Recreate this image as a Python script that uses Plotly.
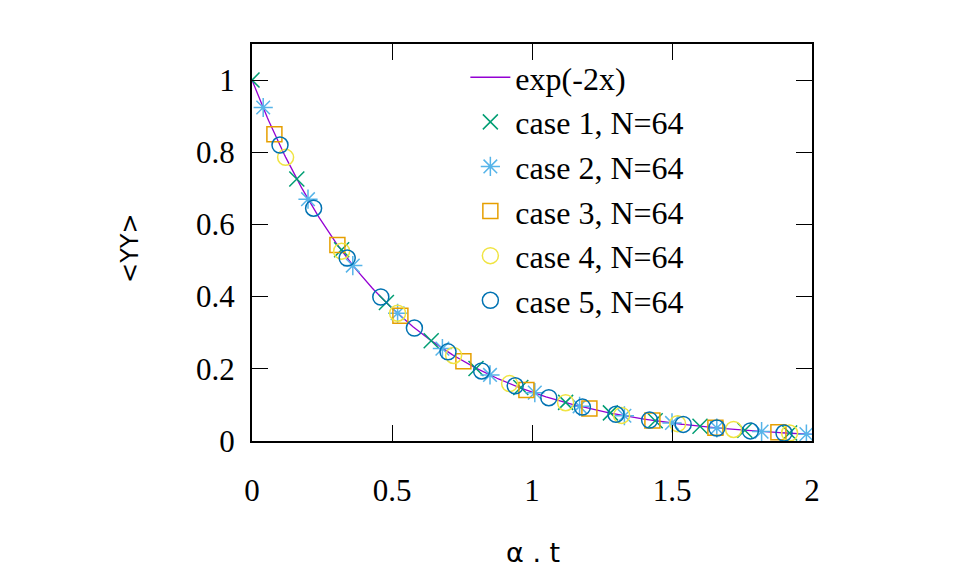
import numpy as np
import plotly.graph_objects as go

# ---- data ----
case1_x = [0.00, 0.16, 0.32, 0.48, 0.64, 0.80, 0.96, 1.12, 1.28, 1.44, 1.60, 1.76, 1.92]
case1_y = [1.000, 0.726, 0.530, 0.384, 0.278, 0.201, 0.148, 0.107, 0.078, 0.056, 0.041, 0.030, 0.022]

case2_x = [0.04, 0.20, 0.36, 0.52, 0.68, 0.85, 1.01, 1.17, 1.33, 1.50, 1.66, 1.82, 1.98]
case2_y = [0.924, 0.670, 0.486, 0.354, 0.256, 0.183, 0.134, 0.096, 0.070, 0.050, 0.036, 0.026, 0.019]

case3_x = [0.08, 0.305, 0.53, 0.755, 0.98, 1.205, 1.43, 1.655, 1.88]
case3_y = [0.850, 0.543, 0.347, 0.221, 0.141, 0.090, 0.057, 0.037, 0.024]

case4_x = [0.12, 0.32, 0.52, 0.72, 0.92, 1.12, 1.32, 1.52, 1.72, 1.92]
case4_y = [0.786, 0.526, 0.354, 0.237, 0.159, 0.106, 0.071, 0.048, 0.032, 0.022]

case5_x = [0.10, 0.22, 0.34, 0.46, 0.58, 0.70, 0.82, 0.94, 1.06, 1.18, 1.30, 1.42, 1.54, 1.66, 1.78, 1.90]
case5_y = [0.820, 0.645, 0.507, 0.399, 0.313, 0.247, 0.194, 0.153, 0.120, 0.094, 0.074, 0.058, 0.046, 0.036, 0.028, 0.022]

x_ticks = [0, 0.5, 1, 1.5, 2]
x_tick_labels = ["0", "0.5", "1", "1.5", "2"]
y_ticks = [0, 0.2, 0.4, 0.6, 0.8, 1]
y_tick_labels = ["0", "0.2", "0.4", "0.6", "0.8", "1"]

names = ["case 1, N=64", "case 2, N=64", "case 3, N=64", "case 4, N=64", "case 5, N=64"]
colors = ["#009e73", "#56b4e9", "#e69f00", "#f0e442", "#0072b2"]
symbols = ["x-thin-open", "asterisk-open", "square-open", "circle-open", "circle-open"]
sizes = [15, 16, 15, 16, 16]

curve_x = np.linspace(0, 2, 401)
curve_y = np.exp(-2 * curve_x)

fig = go.Figure()
fig.add_trace(go.Scatter(x=curve_x, y=curve_y, mode="lines", name="exp(-2x)",
                         line=dict(color="#9400d3", width=1.3)))

for xs, ys, nm, c, s, sz in zip([case1_x, case2_x, case3_x, case4_x, case5_x],
                                [case1_y, case2_y, case3_y, case4_y, case5_y],
                                names, colors, symbols, sizes):
    fig.add_trace(go.Scatter(x=xs, y=ys, mode="markers", name=nm,
                             marker=dict(symbol=s, size=sz, color=c,
                                         line=dict(color=c, width=1.5))))

tick_font = dict(family="Liberation Serif", size=31, color="black")

fig.update_layout(
    width=963, height=578,
    margin=dict(l=244, r=159, t=36, b=145),
    plot_bgcolor="white", paper_bgcolor="white",
    showlegend=True,
    legend=dict(x=0.381, y=0.985, xanchor="left", yanchor="top",
                bgcolor="rgba(0,0,0,0)", font=dict(family="Liberation Serif", size=32, color="black"),
                itemwidth=40, tracegroupgap=0),
    font=dict(family="Liberation Serif", size=31, color="black"),
)

fig.update_xaxes(range=[0, 2], tickvals=x_ticks, ticktext=x_tick_labels,
                 showgrid=False, zeroline=False, showline=True, linecolor="black", linewidth=2,
                 mirror="ticks", ticks="inside", ticklen=16, tickwidth=1.3, tickcolor="black",
                 tickfont=tick_font, ticklabelstandoff=21)
fig.update_yaxes(range=[0, 1.1], tickvals=y_ticks, ticktext=y_tick_labels,
                 showgrid=False, zeroline=False, showline=True, linecolor="black", linewidth=2,
                 mirror="ticks", ticks="inside", ticklen=16, tickwidth=1.3, tickcolor="black",
                 tickfont=tick_font, ticklabelstandoff=9)

fig.add_annotation(text="&lt;YY&gt;", xref="paper", yref="paper", x=-0.218, y=0.486,
                   xanchor="center", yanchor="middle", textangle=-90, showarrow=False,
                   font=dict(family="DejaVu Sans", size=24, color="black"))
fig.add_annotation(text="α . t", xref="paper", yref="paper", x=0.502, y=-0.28,
                   xanchor="center", yanchor="middle", showarrow=False,
                   font=dict(family="DejaVu Sans", size=27, color="black"))

fig.write_html("out.html")
